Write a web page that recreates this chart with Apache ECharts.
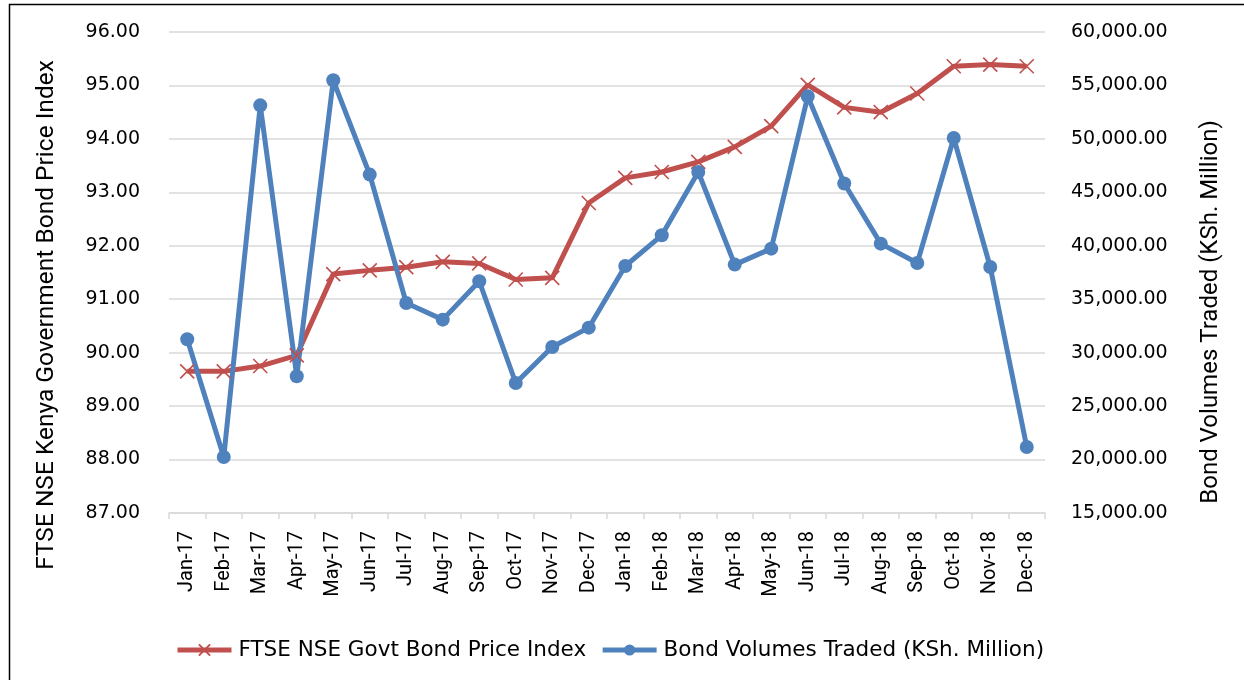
<!DOCTYPE html>
<html lang="en">
<head>
	<meta charset="UTF-8">
	<title>FTSE NSE Govt Bond Price Index</title>
	<style type="text/css">
		html, body { margin: 0; padding: 0; background: #fff; }
	</style>
	<script src="https://cdn.jsdelivr.net/npm/echarts@6/dist/echarts.min.js"></script>
</head>
<body>
	<div id="main" style="width: 1244px;height:680px;"></div>
	<script type="text/javascript">
	var months = ['Jan-17','Feb-17','Mar-17','Apr-17','May-17','Jun-17','Jul-17','Aug-17','Sep-17','Oct-17','Nov-17','Dec-17',
		'Jan-18','Feb-18','Mar-18','Apr-18','May-18','Jun-18','Jul-18','Aug-18','Sep-18','Oct-18','Nov-18','Dec-18']
	var priceIndex = [89.65,89.65,89.75,89.95,91.47,91.54,91.60,91.70,91.67,91.37,91.40,92.80,
		93.27,93.38,93.57,93.85,94.24,95.01,94.59,94.50,94.85,95.36,95.39,95.36]
	var bondVolumes = [31250,20240,53140,27790,55480,46660,34650,33090,36680,27160,30530,32340,
		38110,40980,46900,38240,39730,53980,45820,40200,38390,50080,38010,21170]
	var leftTicks = [87, 96, 1]
	var rightTicks = [15000, 60000, 5000]
	var leftTitle = 'FTSE NSE Kenya Government Bond Price Index'
	var rightTitle = 'Bond Volumes Traded (KSh. Million)'

	var red = '#C0504D', blue = '#4F81BD', grid = '#D9D9D9'
	var tickFont = 'DejaVu Sans'
	var rotFont = 'Roboto'

	function money(v){
		return v.toFixed(2).replace(/\B(?=(\d{3})+(?!\d))/g, ',')
	}

	var myChart = echarts.init(document.getElementById('main'));
	var option = {
		animation: false,
		backgroundColor: '#fff',
		grid: { left: 169, right: 199, top: 32, bottom: 167 },
		graphic: [{
			type: 'rect',
			left: 7, top: 2,
			shape: { width: 1300, height: 800 },
			style: { fill: 'none', stroke: '#000', lineWidth: 1.5 },
			silent: true
		}, {
			// axis titles sit a bit below the plot's middle in the original
			type: 'text', x: 47, y: 315, rotation: Math.PI / 2,
			style: { text: leftTitle, fontFamily: rotFont, fontSize: 24.5, fill: '#000',
				align: 'center', verticalAlign: 'middle' }
		}, {
			type: 'text', x: 1211, y: 312, rotation: Math.PI / 2,
			style: { text: rightTitle, fontFamily: rotFont, fontSize: 24, fill: '#000',
				align: 'center', verticalAlign: 'middle' }
		}],
		legend: {
			bottom: 14,
			left: 170,
			itemWidth: 54,
			itemHeight: 14,
			itemGap: 14,
			lineStyle: { width: 5 },
			textStyle: { fontFamily: tickFont, fontSize: 21.5, color: '#000', padding: [0,0,0,2] },
			data: ['FTSE NSE Govt Bond Price Index', 'Bond Volumes Traded (KSh. Million)']
		},
		xAxis: {
			type: 'category',
			data: months,
			boundaryGap: true,
			axisLine: { lineStyle: { color: grid, width: 1.5 } },
			axisTick: { show: true, interval: 0, length: 6, lineStyle: { color: grid, width: 1.5 } },
			axisLabel: { interval: 0, rotate: 90, margin: 18, color: '#000', fontFamily: rotFont, fontSize: 20 }
		},
		yAxis: [{
			type: 'value',
			min: leftTicks[0], max: leftTicks[1], interval: leftTicks[2],
			axisLine: { show: false },
			axisTick: { show: false },
			splitLine: { lineStyle: { color: grid, width: 1.5 } },
			axisLabel: { margin: 29, color: '#000', fontFamily: tickFont, fontSize: 19,
				formatter: function(v){ return v.toFixed(2) } }
		}, {
			type: 'value',
			min: rightTicks[0], max: rightTicks[1], interval: rightTicks[2],
			axisLine: { show: false },
			axisTick: { show: false },
			splitLine: { show: false },
			axisLabel: { margin: 26, color: '#000', fontFamily: tickFont, fontSize: 19,
				formatter: money }
		}],
		series: [{
			name: 'FTSE NSE Govt Bond Price Index',
			type: 'line',
			yAxisIndex: 0,
			data: priceIndex,
			symbol: 'path://M0,0L10,10M10,0L0,10',
			symbolSize: 14,
			showAllSymbol: true,
			lineStyle: { color: red, width: 5 },
			itemStyle: { color: red, borderColor: red, borderWidth: 1.6 }
		}, {
			name: 'Bond Volumes Traded (KSh. Million)',
			type: 'line',
			yAxisIndex: 1,
			data: bondVolumes,
			symbol: 'circle',
			symbolSize: 14,
			showAllSymbol: true,
			lineStyle: { color: blue, width: 5 },
			itemStyle: { color: blue, borderColor: blue, borderWidth: 0 }
		}]
	};
	myChart.setOption(option);
	</script>
</body>
</html>
